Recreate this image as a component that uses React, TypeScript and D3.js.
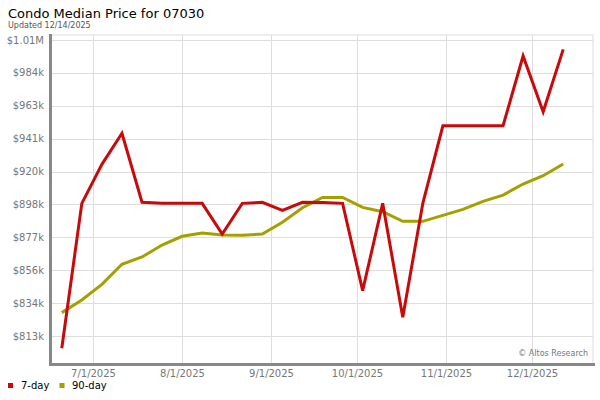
import React from 'react';
import { scaleLinear, scaleUtc, line, utcParse } from 'd3';

const weeks = [
  '2025-06-20', '2025-06-27', '2025-07-04', '2025-07-11', '2025-07-18', '2025-07-25',
  '2025-08-01', '2025-08-08', '2025-08-15', '2025-08-22', '2025-08-29', '2025-09-05',
  '2025-09-12', '2025-09-19', '2025-09-26', '2025-10-03', '2025-10-10', '2025-10-17',
  '2025-10-24', '2025-10-31', '2025-11-07', '2025-11-14', '2025-11-21', '2025-11-28',
  '2025-12-05', '2025-12-12',
];

// prices in $k
const sevenDay = [
  804.8, 899.1, 924.5, 944.7, 899.8, 899.1, 899.1, 899.1, 879.2, 899.1, 899.8, 894.6,
  899.8, 899.7, 899.1, 842.3, 899.1, 825.0, 899.1, 949.6, 949.6, 949.6, 949.6, 995.0,
  958.7, 999.3,
];
const ninetyDay = [
  828.0, 836.2, 846.4, 859.5, 864.2, 872.0, 877.7, 879.8, 878.5, 878.3, 879.2, 886.8,
  896.3, 903.0, 903.0, 896.5, 893.7, 887.4, 887.4, 891.3, 895.2, 900.4, 904.5, 911.7,
  917.1, 924.7,
];

const yTicks = [812.8, 834.2, 855.6, 877.0, 898.4, 919.8, 941.2, 962.6, 984.0, 1005.4];
const yTickLabels = ['$813k', '$834k', '$856k', '$877k', '$898k', '$920k', '$941k', '$963k', '$984k', '$1.01M'];
const xTicks = ['2025-07-01', '2025-08-01', '2025-09-01', '2025-10-01', '2025-11-01', '2025-12-01'];
const xTickLabels = ['7/1/2025', '8/1/2025', '9/1/2025', '10/1/2025', '11/1/2025', '12/1/2025'];

const parse = utcParse('%Y-%m-%d');
const font = '"DejaVu Sans", Verdana, sans-serif';

export default function App() {
  const left = 51, right = 593, top = 35, bottom = 364;

  const x = scaleUtc()
    .domain([parse(xTicks[0]), parse(xTicks[xTicks.length - 1])])
    .range([93.3, 531.7]);
  const y = scaleLinear()
    .domain([yTicks[0], yTicks[yTicks.length - 1]])
    .range([336, 40]);

  const dates = weeks.map(d => parse(d));
  const path = line<number>()
    .x((_, i) => x(dates[i]))
    .y(v => y(v));

  return (
    <svg width={600} height={400} style={{ position: 'absolute', left: 0, top: 0, fontFamily: font }}>
      <rect x={0} y={0} width={600} height={400} fill="#fff" />
      <text x={8} y={18} fontSize={13} fill="#000">Condo Median Price for 07030</text>
      <text x={8} y={27.5} fontSize={8} fill="#555">Updated 12/14/2025</text>

      {/* grid */}
      <rect x={left} y={top} width={right - left} height={bottom - top} fill="none" stroke="#ddd" strokeWidth={1} />
      {yTicks.map((t, i) => (
        <g key={t}>
          <line x1={left} x2={right} y1={Math.round(y(t)) + 0.5} y2={Math.round(y(t)) + 0.5} stroke="#ddd" />
          <text x={44} y={y(t) + 3.5} fontSize={10} fill="#777" textAnchor="end">{yTickLabels[i]}</text>
        </g>
      ))}
      {xTicks.map((t, i) => {
        const px = Math.round(x(parse(t))) + 0.5;
        return (
          <g key={t}>
            <line x1={px} x2={px} y1={top} y2={bottom} stroke="#ddd" />
            <text x={px} y={377} fontSize={10} fill="#777" textAnchor="middle">{xTickLabels[i]}</text>
          </g>
        );
      })}

      <text x={588} y={356} fontSize={8} fill="#777" textAnchor="end">© Altos Research</text>

      {/* axes */}
      <line x1={50.5} x2={50.5} y1={34} y2={366} stroke="#888" strokeWidth={3} />
      <line x1={49} x2={595} y1={364.5} y2={364.5} stroke="#888" strokeWidth={3} />

      <path d={path(ninetyDay) || ''} fill="none" stroke="#a3a000" strokeWidth={3} strokeLinejoin="miter" />
      <path d={path(sevenDay) || ''} fill="none" stroke="#c80a0a" strokeWidth={3} strokeLinejoin="miter" />

      {/* legend */}
      <rect x={8} y={383} width={5} height={5} fill="#c80a0a" />
      <text x={21} y={389} fontSize={10} fill="#000">7-day</text>
      <rect x={59.5} y={383} width={5} height={5} fill="#a3a000" />
      <text x={72} y={389} fontSize={10} fill="#000">90-day</text>
    </svg>
  );
}
